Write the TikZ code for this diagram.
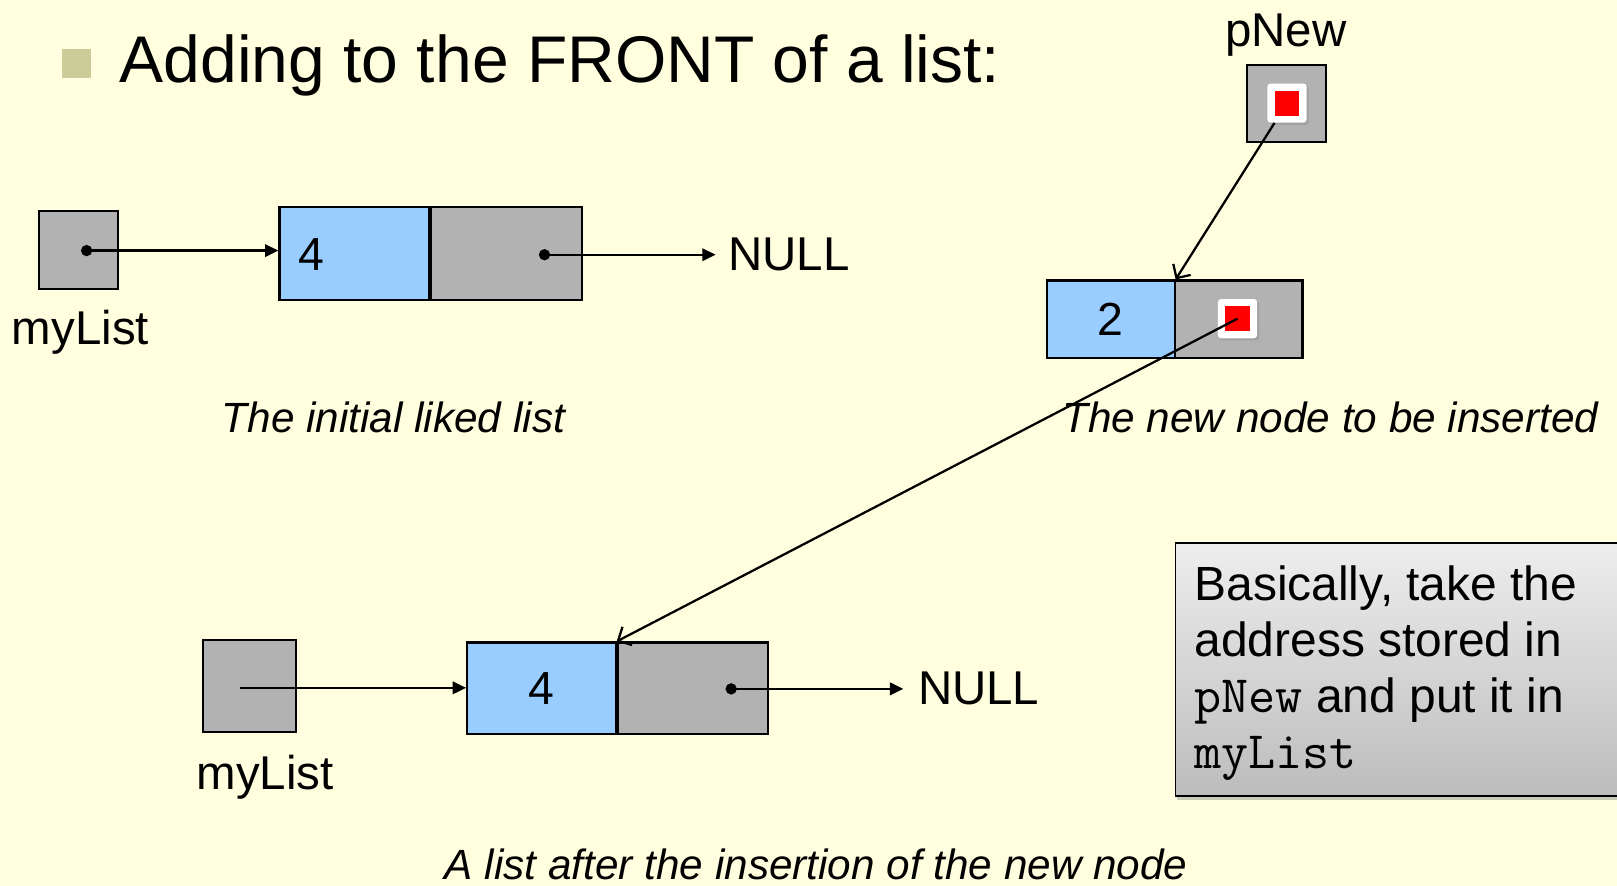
\documentclass[tikz,border=0pt]{standalone}
\usepackage{fontspec}
\setmainfont{Liberation Sans}
\usetikzlibrary{arrows.meta,shadows}
\definecolor{bgc}{RGB}{255,255,224}
\definecolor{cellgray}{RGB}{178,178,178}
\definecolor{cellblue}{RGB}{153,204,255}
\definecolor{bulletc}{RGB}{204,204,153}
\definecolor{ptrred}{RGB}{255,0,0}
\definecolor{notetop}{RGB}{238,238,238}
\definecolor{notebot}{RGB}{188,188,188}
\begin{document}
\begin{tikzpicture}[x=1pt,y=-1pt,
  bulletsq/.style={rectangle, fill=bulletc, minimum size=28pt, inner sep=0},
  ptrbox/.style={rectangle, draw=black, line width=2pt, fill=cellgray, inner sep=0},
  datacell/.style={rectangle, draw=black, line width=2pt, fill=cellblue, inner sep=0},
  linkcell/.style={rectangle, draw=black, line width=2pt, fill=cellgray, inner sep=0},
  holder/.style={rectangle, rounded corners=3pt, fill=white, minimum size=38pt, inner sep=0,
    drop shadow={shadow xshift=2pt, shadow yshift=-2pt, opacity=0.35}},
  redsq/.style={rectangle, fill=ptrred, minimum size=24pt, inner sep=0},
  dotc/.style={circle, fill=black, minimum width=11pt, minimum height=12pt, inner sep=0, ellipse},
  link/.style={line width=2.2pt, -{Triangle[length=13pt,width=12pt]}},
  newlink/.style={line width=2.2pt, -{Straight Barb[length=10pt,width=20pt,line width=2.2pt]}},
  lbl/.style={font=\fontsize{46}{50}\selectfont, inner sep=0},
  val/.style={font=\fontsize{45}{50}\selectfont, inner sep=0},
  caption/.style={font=\fontsize{41}{46}\selectfont\itshape, inner sep=0},
  notebox/.style={rectangle, draw=black, line width=1.5pt, top color=notetop, bottom color=notebot,
    inner sep=0, drop shadow={shadow xshift=2pt, shadow yshift=-4pt, opacity=0.4}}
]
\useasboundingbox (0,0) rectangle (1568,859);
\clip (0,0) rectangle (1568,859);
\fill[bgc] (0,0) rectangle (1568,859);

% title
\node[bulletsq] (bul) at (74,62) {};
\node[anchor=base west, inner sep=0, font=\fontsize{64}{70}\selectfont] (title) at (116,80) {Adding to the FRONT of a list:};

% pNew pointer
\node[lbl, anchor=base] (pnewlbl) at (1247,45) {pNew};
\node[ptrbox, minimum width=77pt, minimum height=75pt] (pnew) at (1247.5,100.5) {};
\node[holder] (pnewin) at (1248,100) {};
\node[redsq] (pnewred) at (1248,100) {};

% new node 2
\node[datacell, minimum width=124pt, minimum height=75pt] (n2a) at (1077,309.5) {};
\node[val] (v2) at (n2a.center) {2};
\node[linkcell, minimum width=124pt, minimum height=75pt] (n2b) at (1201,309.5) {};
\node[holder] (n2in) at (1200,309) {};
\node[redsq] (n2red) at (1200,309) {};
\draw[newlink] (pnewin) -- (n2a.north east);

% captions
\node[caption, anchor=base west] (cap1) at (215,419) {The initial liked list};
\node[caption, anchor=base west] (cap2) at (1030,419) {The new node to be inserted};

% initial list
\node[ptrbox, minimum width=76pt, minimum height=75pt] (ml1) at (76,242.5) {};
\node[circle, fill=black, minimum size=11pt, inner sep=0] (d1) at (84,243) {};
\node[datacell, minimum width=145pt, minimum height=90pt] (n1a) at (343.5,246) {};
\node[val] (v1) at (302,247) {4};
\node[linkcell, minimum width=146pt, minimum height=90pt] (n1b) at (491,246) {};
\node[circle, fill=black, minimum size=11pt, inner sep=0] (d2) at (528,247) {};
\node[lbl, anchor=west] (null1) at (706,247) {NULL};
\draw[link] (d1.center) -- (d1.center -| n1a.west);
\draw[link] (d2.center) -- ([xshift=-12pt]null1.west);
\node[lbl, anchor=base] (mllbl1) at (78,334) {myList};

% list after insertion
\node[ptrbox, minimum width=90pt, minimum height=89pt] (ml2) at (242,665.5) {};
\coordinate (s2) at (233,667);
\node[datacell, minimum width=144pt, minimum height=89pt] (n3a) at (525,667.5) {};
\node[val] (v3) at (n3a.center) {4};
\node[linkcell, minimum width=146pt, minimum height=89pt] (n3b) at (672,667.5) {};
\node[circle, fill=black, minimum size=11pt, inner sep=0] (d3) at (709,668) {};
\node[lbl, anchor=west] (null2) at (890,668) {NULL};
\draw[link] (s2) -- (s2 -| n3a.west);
\draw[link] (d3.center) -- ([xshift=-14pt]null2.west);
\node[lbl, anchor=base] (mllbl2) at (257,766) {myList};
\node[caption, anchor=base] (cap3) at (791.5,853) {A list after the insertion of the new node};

% pointer copy
\draw[newlink] (n2red.center) -- (n3a.north east);

% note
\node[notebox, minimum width=440pt, minimum height=245pt, anchor=north west] (note) at (1139,526) {};
\node[anchor=north west, inner sep=0, align=left, font=\fontsize{46.5}{54.5}\selectfont] (notetext) at (1158,548)
  {Basically, take the\\address stored in\\{\fontsize{51}{54.5}\selectfont\ttfamily pNew} and put it in\\{\fontsize{51}{54.5}\selectfont\ttfamily myList}};
\end{tikzpicture}
\end{document}
